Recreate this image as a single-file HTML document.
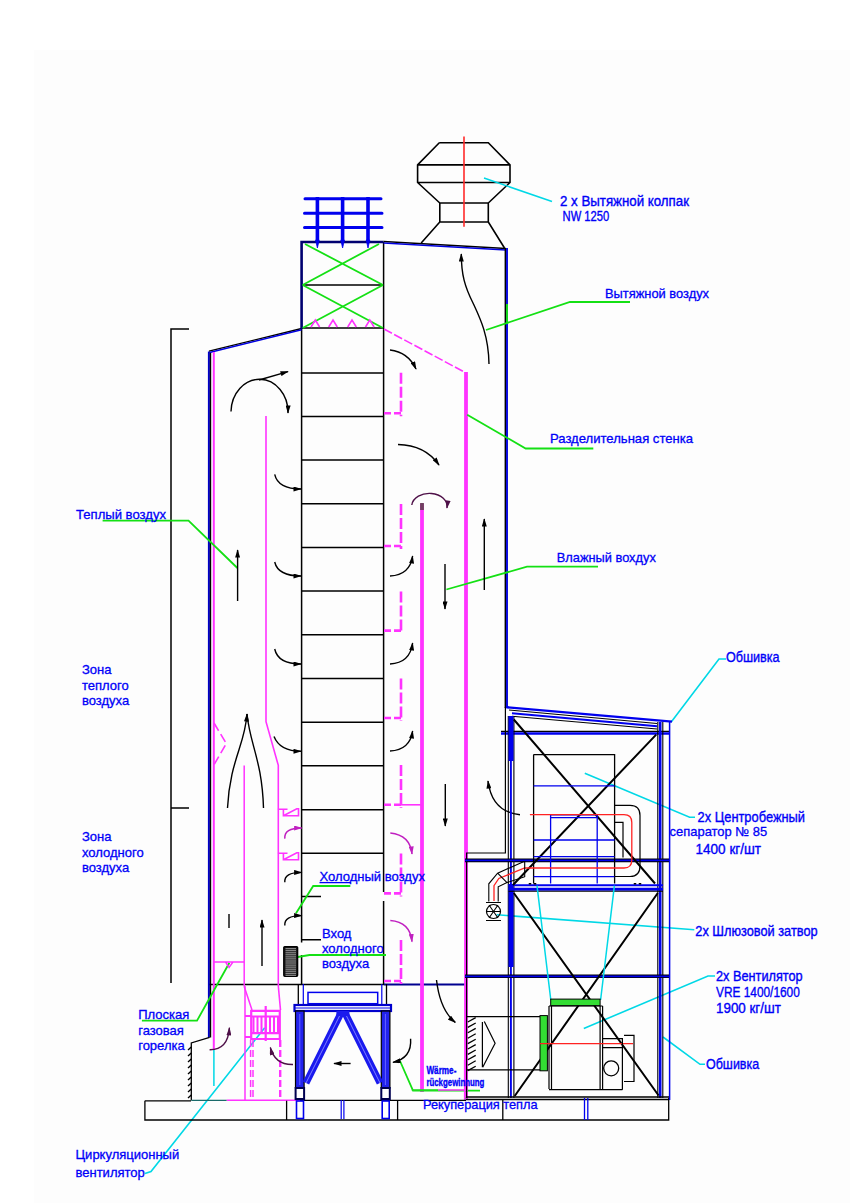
<!DOCTYPE html>
<html><head><meta charset="utf-8">
<style>
html,body{margin:0;padding:0;background:#fff;}
svg{display:block;}
text{font-family:"Liberation Sans",sans-serif;fill:#0000f8;stroke:#0000f8;stroke-width:0.3px;font-size:13px;}
.iso{stroke-width:0.35px;font-size:13.8px;}
</style></head><body>
<svg width="850" height="1203" viewBox="0 0 850 1203" fill="none" stroke-linecap="butt">
<rect x="34" y="50" width="816" height="1153" fill="#fdfdfd"/>

<!-- ===== BLACK THIN STRUCTURE ===== -->
<g id="blk" stroke="#000" stroke-width="1.5">
  <!-- bracket -->
  <path d="M189 329H171V983 M171 808H189"/>
  <!-- column -->
  <path d="M383.6 242V892 M383.6 901V984 M301.6 328V942.6 M301.6 955V984"/>
  <path d="M301.6 285H383.6 M301.6 328H383.6 M301.6 372.9H383.6 M301.6 416.4H383.6 M301.6 460.1H383.6 M301.6 503.7H383.6 M301.6 547.4H383.6 M301.6 591.1H383.6 M301.6 634.8H383.6 M301.6 678.6H383.6 M301.6 722.3H383.6 M301.6 765.8H383.6 M301.6 809.7H383.6 M301.6 853.3H383.6"/>
  <path d="M301.6 896.6H321 M301.6 939.8H321"/>
  <!-- hood -->
  <path stroke-width="1.6" d="M439.3 142.7H488.3L510 164.9V182.5L488.3 203V222L504.5 248 M439.3 142.7L417.6 164.9V182.5L439.8 203V222L421.2 243 M417.6 164.9H510 M417.6 182.5H510 M439.8 203H488.3 M439.8 222H488.3"/>
  <!-- tower bottom line -->
  <path d="M209 984.5H384" stroke-width="1.6"/>
  <path d="M384 984.5H466" stroke="#000090" stroke-width="2.2"/>
</g>

<!-- ===== THICK BLUE WALLS ===== -->
<g stroke-linejoin="miter">
  <path d="M208.9 1037.4V351.6" stroke="#0000c8" stroke-width="2"/>
  <path d="M210.5 1037.4V352" stroke="#000" stroke-width="1.4"/>
  <path d="M209 351.1L301.6 328.5" stroke="#000" stroke-width="1.4"/>
  <path d="M209.5 352.4L301.6 329.8" stroke="#0000e0" stroke-width="1.5"/>
  <path d="M301.6 329V242H383.6" stroke="#000070" stroke-width="2.6"/>
  <path d="M383.6 241.5L506 248.5" stroke="#000" stroke-width="1.5"/>
  <path d="M383.6 242.9L506 249.9" stroke="#0000e0" stroke-width="1.5"/>
  <path d="M505.3 248V708" stroke="#000" stroke-width="1.4"/>
  <path d="M507 248V708" stroke="#0000e0" stroke-width="1.9"/>
</g>
<!-- ===== BLUE GRID ON TOP ===== -->
<g stroke="#0000ee">
  <path d="M305 198.8H381 M304.5 213.3H382 M304.5 227.6H382" stroke-width="3" stroke-linecap="round"/>
  <path d="M317.4 197V241 M342.6 197V241 M368 197V241" stroke-width="3.6"/>
  <path d="M315.6 240L317.4 248L319.2 240Z M340.8 240L342.6 248L344.4 240Z M366.2 240L368 248L369.8 240Z" fill="#0000ee" stroke-width="0.8"/>
</g>
<!-- ===== GREEN X ===== -->
<g stroke="#14e014" stroke-width="1.8">
  <path d="M305 244L383 285 M379 244L302.6 285 M302.6 285L383 328 M383 285L302.6 328"/>
</g>

<!-- ===== PINK ===== -->
<g stroke="#ff33ff" stroke-width="1.6">
  <path d="M213.8 352V1050" stroke-width="2"/>
  <path d="M311 327L315.3 320L319.6 327 M328.7 327L333 320L337.3 327 M347.7 327L352 320L356.3 327 M365.5 327L369.8 320L374.1 327"/>
  <path d="M384 329L465 372.4" stroke-dasharray="9 2.5"/>
  <path d="M466 372V1100" stroke-width="3.8"/>
  <path d="M422 504V1092" stroke-width="3.8"/>
  <path d="M422 503V510" stroke="#704060" stroke-width="3.8"/>
  <path d="M266 416V721.6L278.3 765.4V986L280.5 1010"/>
</g>


<defs>
<marker id="ah" viewBox="0 0 10 6" refX="9" refY="3" markerWidth="9" markerHeight="5" markerUnits="userSpaceOnUse" orient="auto"><path d="M0 0L10 3L0 6z" fill="#000"/></marker>
<marker id="ahp" viewBox="0 0 10 6" refX="9" refY="3" markerWidth="9" markerHeight="5" markerUnits="userSpaceOnUse" orient="auto"><path d="M0 0L10 3L0 6z" fill="#4e1048"/></marker>
</defs>
<!-- ===== LEADERS ===== -->
<g stroke="#14e014" stroke-width="1.8">
  <path d="M630 302H570L486 330"/>
  <path d="M507 304V324" stroke-width="1.9"/>
  <path d="M593.3 448.5H525.7L467.2 414.7"/>
  <path d="M598 566.7H527L446.4 589.5"/>
  <path d="M102.6 520.6H188.5L237.4 568"/>
  <path d="M350.3 886H313.2L296 913.2"/>
  <path d="M386 955H309.5L292 958"/>
  <path d="M141.9 1020.7H197L229.4 962.8"/>
  <path d="M400 1061L413 1090.6H480"/>
</g>
<g stroke="#00d8e6" stroke-width="1.6">
  <path d="M484 178L552 201.6"/>
  <path d="M726 659H719L671.6 721.4"/>
  <path d="M584.8 773.3L689.6 817.3H695"/>
  <path d="M496.7 914.8L694.3 929.8"/>
  <path d="M583.8 1028.5L708 976H715"/>
  <path d="M663 1037L700 1064.3H705"/>
  <path d="M145 1173.5L151 1171.5L264.7 1027.8"/>
</g>
<!-- red hood center -->
<path d="M464 136.4V226.7" stroke="#ff2a2a" stroke-width="1.6"/>

<!-- ===== PINK DETAILS ===== -->
<g stroke="#ff33ff" stroke-width="2.2">
  <path stroke-width="2.6" d="M401 372.8V416.3 M401 504V549 M401 591.4V633.6 M401 678.5V721 M401 765V807.8 M401 853.4V896.4 M401 940V984" stroke-dasharray="11 3"/>
  <path stroke-width="2.6" d="M401 413.3H384 M401 546H384 M401 630.6H384 M401 718H384 M401 804.8H384 M401 893.4H384 M401 981H384" stroke-dasharray="7 3"/>
  <path d="M401 804.8H422" stroke-width="1.6"/>
  <path d="M214 723L226.3 743.5L214 764.7" stroke-width="1.6" stroke-dasharray="9 4"/>
  <path d="M244.2 765.4V986.6 M213.9 961.9H244.2 M225.5 961.9H233L229.1 967.5Z" stroke-width="1.5"/>
  <path d="M244.2 986.6L252 1009.9" stroke-width="1.5"/>
  <path d="M245 986V1100" stroke-width="1.5"/>
  <path d="M277.9 809.3H287.5 M283.4 809.3V815.7H298.5V808.7H296.8L283.4 815.7 M277.9 853.3H287.5 M283.4 853.3V859.7H298.5V852.7H296.8L283.4 859.7" stroke-width="1.6"/>
  <!-- fan grid -->
  <path d="M251.2 1010.8H280.5 M251.2 1016.5H280.5 M251.2 1033.2H280.5 M251.2 1039H280.5 M251.2 1009.8V1040 M279.8 1009.8V1040 M265.7 1006V1041 M245 1016H251 M245 1037H251" stroke-width="2.2"/>
  <path d="M253.5 1016V1034 M257.5 1016V1034 M261.5 1016V1034 M265.7 1016V1034 M270.0 1016V1034 M274.0 1016V1034 M278.0 1016V1034" stroke-width="2"/>
  <path d="M250.6 1040V1100 M253 1040V1100" stroke-width="1.5" stroke-dasharray="7 3"/>
  <path d="M280.2 1040V1100" stroke-width="2.4" stroke-dasharray="7 3"/>
  <path d="M226.6 1100.3H300" stroke-width="1.6"/>
  <path d="M465 1097V1100 M411.8 1090H438" stroke="#22dd22" stroke-width="1.4"/>
  <path d="M438 1090H468 M464.7 1060V1100" stroke-width="1.6"/>
</g>
<path d="M213.9 1050V1086" stroke="#00d8e6" stroke-width="1.5"/>
<!-- burner wall & foundation -->
<g stroke="#000" stroke-width="1.3">
  <path d="M209.6 1037.4L191.3 1043V1100.3"/>
  <path d="M191.3 1100.3H226.6" stroke="#1a6a6a"/>
  <path d="M188 1050L191.3 1047 M188 1056L191.3 1053 M188 1062L191.3 1059 M188 1068L191.3 1065 M188 1074L191.3 1071 M188 1080L191.3 1077 M188 1086L191.3 1083 M188 1092L191.3 1089 M188 1098L191.3 1095" stroke-width="1.4"/>
  <path d="M144.9 1100.8H191 M144.9 1100.8V1120 H668.7V1098 M286.6 1100.8V1120 M397.6 1100V1120 M502.8 1100V1120"/>
  <path d="M300 1100.4H466"/>
  <path d="M298.3 984V1004 M386.5 984V1004"/>
</g>
<!-- louver -->
<g>
  <rect x="283.8" y="946.6" width="13.8" height="29.6" rx="1" fill="#1a1a1a" stroke="#000" stroke-width="1.4"/>
  <path d="M285.5 948.7H296 M285.5 950.7H296 M285.5 952.8H296 M285.5 954.8H296 M285.5 956.9H296 M285.5 958.9H296 M285.5 961.0H296 M285.5 963.0H296 M285.5 965.1H296 M285.5 967.1H296 M285.5 969.2H296 M285.5 971.2H296 M285.5 973.3H296 M285.5 975.3H296" stroke="#b0b0b0" stroke-width="0.9"/>
</g>
<!-- support structure -->
<g>
  <path d="M303.3 984V1004 M381.8 984V1004" stroke="#0000ee" stroke-width="1.2"/>
  <rect x="308" y="992.4" width="69.7" height="11.3" stroke="#0000ee" stroke-width="1.5"/>
  <rect x="294.5" y="1005" width="96.5" height="6" fill="#fff" stroke="#0000cc" stroke-width="2.2"/>
  <path d="M294.5 1008H391" stroke="#0000ee" stroke-width="1"/>
  <rect x="295.5" y="1011" width="8.6" height="77" fill="#2222ee" stroke="#000" stroke-width="1.2"/>
  <rect x="381.3" y="1011" width="8.6" height="77" fill="#2222ee" stroke="#000" stroke-width="1.2"/>
  <path d="M299.8 1014V1085 M385.4 1014V1085" stroke="#6666ff" stroke-width="1"/>
  <rect x="295.6" y="1088" width="8.5" height="11" fill="#fff" stroke="#000050" stroke-width="2"/>
  <rect x="381.3" y="1088" width="8.5" height="11" fill="#fff" stroke="#000050" stroke-width="2"/>
  <rect x="296.5" y="1101" width="7" height="17.5" fill="#fff" stroke="#0000ee" stroke-width="1.6"/>
  <rect x="382.2" y="1101" width="7" height="17.5" fill="#fff" stroke="#0000ee" stroke-width="1.6"/>
  <path d="M341.2 1100V1119 M343.9 1100V1119" stroke="#0000ee" stroke-width="1.2"/>
  <path d="M341 1013L306 1083 M345 1013L380 1083" stroke="#1a1aee" stroke-width="7"/>
  <path d="M341 1013L306 1083 M345 1013L380 1083" stroke="#8080ff" stroke-width="1"/>
  <rect x="336.4" y="1011" width="13" height="5" fill="#1a1aee"/>
</g>

<!-- ===== ARROWS ===== -->
<g stroke="#000" stroke-width="1.4">
  <path d="M489 364C488.5 335 480 318 473 303C465 287 461.3 275 461.3 254" marker-end="url(#ah)"/>
  <path d="M231 411.6A28.5 33 0 0 1 288 413" marker-end="url(#ah)"/>
  <path d="M259 380L288 371.6" marker-end="url(#ah)"/>
  <path d="M390 350Q408 352 416 369" marker-end="url(#ah)"/>
  <path d="M398 444.5Q425 445 439 465" marker-end="url(#ah)"/>
  <path d="M484.3 590V519" marker-end="url(#ah)"/>
  <path d="M445 564V609" marker-end="url(#ah)"/>
  <path d="M445.3 784V826" marker-end="url(#ah)"/>
  <path d="M237.6 601V550" marker-end="url(#ah)"/>
  <path d="M274.7 474.4Q278 489 301 489" marker-end="url(#ah)"/>
  <path d="M274.7 562Q278 576 301 576" marker-end="url(#ah)"/>
  <path d="M274.7 649Q278 664 301 664" marker-end="url(#ah)"/>
  <path d="M274 736.5Q280 751.3 301 751.3" marker-end="url(#ah)"/>
  <path d="M390 576Q410 575 412.6 556" marker-end="url(#ah)"/>
  <path d="M390 664Q410 663 412.6 643" marker-end="url(#ah)"/>
  <path d="M390 751Q410 750 412.6 731" marker-end="url(#ah)"/>
  <path d="M284.8 882.3Q284 872.4 301.6 872.4" marker-end="url(#ah)"/>
  <path d="M284.8 925.5Q284 915.6 301.6 915.6" marker-end="url(#ah)"/>
  <path d="M262 966V920" marker-end="url(#ah)"/>
  <path d="M229 914V928"/>
  <path d="M520 814.7Q492 812 488 781" marker-end="url(#ah)"/>
  <path d="M350.6 1063.5H334" marker-end="url(#ah)"/>
  <path d="M436.5 980Q440 1010 455.3 1022.4" marker-end="url(#ah)"/>
  <path d="M410.6 1038.8Q412 1058 393 1062.4" marker-end="url(#ah)"/>
  <path d="M227.5 808C230 760 245 745 247 714" marker-end="url(#ah)"/>
  <path d="M263.5 808C262 760 250 745 247 714"/>
</g>
<g stroke="#4e1048" stroke-width="1.4">
  <path d="M411.8 505A17.5 13 0 0 1 447 508" marker-end="url(#ahp)"/>
  <path d="M209.6 1049.8Q228 1050 229.4 1027.8" marker-end="url(#ahp)"/>
  <path d="M293 1064.5Q275 1065 270.3 1047.5" marker-end="url(#ahp)"/>
</g>


<!-- ===== RIGHT STRUCTURE ===== -->
<g id="right">
  <!-- sheathing roof -->
  <path d="M506.4 707.2L672 721.6" stroke="#0000ee" stroke-width="2.4"/>
  <path d="M509 710L657 723.5" stroke="#000" stroke-width="1.2"/>
  <path d="M512 713.2L657 726.3" stroke="#0000ee" stroke-width="2"/>
  <path d="M512 716.2L657 729" stroke="#000" stroke-width="1.1"/>
  <!-- beam 733 -->
  <path d="M501 731.3H669" stroke="#000" stroke-width="1.3"/>
  <path d="M501 733.5H669" stroke="#0000ee" stroke-width="2.4"/>
  <!-- left column -->
  <path d="M505.4 707V853H466.6V1098" stroke="#000" stroke-width="1.2"/>
  <path d="M508.3 716V1098 M513.9 716V1098" stroke="#000" stroke-width="1.1"/>
  <path d="M510.9 716V1098" stroke="#0000ee" stroke-width="1.9"/>
  <path d="M511 716V761 M511 884V967" stroke="#0000ee" stroke-width="5"/>
  <!-- right column -->
  <path d="M657.8 722V1098 M662.8 722V1098" stroke="#000" stroke-width="1.1"/>
  <path d="M660.2 722V1098" stroke="#0000ee" stroke-width="2.6"/>
  <path d="M669.6 722V1100" stroke="#0000ee" stroke-width="1.5"/>
  <!-- beams -->
  <path d="M465 860.3H669" stroke="#000" stroke-width="3.8"/>
  <path d="M465 860.3H669" stroke="#0000ee" stroke-width="1.8"/>
  <path d="M508.5 885.3H663" stroke="#0000ee" stroke-width="2"/>
  <path d="M508.5 889.3H663" stroke="#0000ee" stroke-width="3"/>
  <path d="M508.5 891.3H663" stroke="#000" stroke-width="1.1"/>
  <path d="M530 884.5V883 M535 884.5V883 M635 884.5V883 M640 884.5V883" stroke="#000" stroke-width="2.5"/>
  <path d="M465 976.3H669" stroke="#000" stroke-width="3.6"/>
  <path d="M465 976.3H669" stroke="#0000ee" stroke-width="1.8"/>
  <!-- big X upper -->
  <path d="M513.8 719.5L655 883.5 M656.2 734.6L513 885" stroke="#000" stroke-width="2"/>
  <!-- separator -->
  <path d="M533.6 754.6H614.6V883.5 M533.6 754.6V883.5" stroke="#000" stroke-width="1.3"/>
  <path d="M533.6 785.9H614.6 M533.6 840H614.6 M533.6 856.6H614.6 M533.6 876.6H614.6 M550.6 814.8H597.2 M550.6 817.6H597.2 M550.6 814.8V883.5 M597.2 814.8V883.5" stroke="#0000ee" stroke-width="1.3"/>
  <path d="M529.9 814.6H624Q631.8 814.6 631.8 822.4V860Q631.8 868 624 868H524.7L498.8 878.5L494 885.6V901" stroke="#ff2222" stroke-width="1.3"/>
  <path d="M614.6 805.4H630Q640 805.4 640 815.4V866Q640 876.5 630 876.5H614.6 M614.6 822.4H623V857.6" stroke="#000" stroke-width="1.2"/>
  <!-- pipe -->
  <path d="M524 861.5L497.6 873.2L488.8 883.8V901.5 M524.7 876.8L507 882.6L498.2 886.8V901.5 M524.7 861V877 M497.6 873.2L507 882.6" stroke="#000" stroke-width="1.1"/>
  <!-- valve -->
  <circle cx="493.5" cy="911.5" r="7" stroke="#000" stroke-width="1.2"/>
  <path d="M486 902.5H501 M486 920.5H501 M486.5 911.5H500.5 M489 905L498 918 M498 905L489 918" stroke="#000" stroke-width="1.1"/>
  <!-- lower X -->
  <path d="M513.8 893L658.6 1095.5 M657.8 893L514.7 1096" stroke="#000" stroke-width="2"/>
  <!-- cyan hopper lines -->
  <path d="M537 885.6L550.8 1000 M614.4 885.6L600.6 1000" stroke="#00d8e6" stroke-width="1.5"/>
  <!-- fan -->
  <rect x="550.7" y="999.1" width="49.4" height="6.6" fill="#33dd33" stroke="#000" stroke-width="1"/>
  <path d="M549 1006V1089 M551.5 1006V1089 M600.1 1006V1089 M602.6 1006V1089 M549 1006H602.6 M549 1089.7H622.4" stroke="#000" stroke-width="1.2"/>
  <rect x="540" y="1015.6" width="7.4" height="55.2" fill="#33dd33" stroke="#000" stroke-width="1"/>
  <path d="M540 1043.6H633" stroke="#ff2222" stroke-width="1.3"/>
  <path d="M602.6 1038.7H622.4V1089.7 M602.6 1047.7H622.4 M624 1035.4H634V1081.5H624 M622.4 1042V1080" stroke="#000" stroke-width="1.2"/>
  <circle cx="611.2" cy="1068.3" r="7.5" stroke="#000" stroke-width="1.3"/>
  <!-- intake duct -->
  <path d="M466.6 1016.6H540 M466.6 1069.8H540 M482.4 1021.9V1067.3 M484.3 1021.6L495.1 1043.2L482.7 1067.3" stroke="#000" stroke-width="1.2"/>
  <path d="M467.8 1022.0L475.7 1017.6 M467.8 1027.4L475.7 1023.0 M467.8 1032.8L475.7 1028.4 M467.8 1038.2L475.7 1033.8 M467.8 1043.6L475.7 1039.2 M467.8 1049.0L475.7 1044.6 M467.8 1054.4L475.7 1050.0 M467.8 1059.8L475.7 1055.4 M467.8 1065.2L475.7 1060.8 M467.8 1070.6L475.7 1066.2" stroke="#000" stroke-width="1.3"/>
  <!-- floor -->
  <path d="M466 1097H669 M466 1099.5H669" stroke="#000" stroke-width="1.4"/>
  <path d="M584.5 1098V1120 M587.8 1098V1120" stroke="#0000ee" stroke-width="1.3"/>
</g>

<defs><marker id="ahm" viewBox="0 0 10 6" refX="9" refY="3" markerWidth="9" markerHeight="5" markerUnits="userSpaceOnUse" orient="auto"><path d="M0 0L10 3L0 6z" fill="#c020c0"/></marker></defs>
<g stroke="#c020c0" stroke-width="1.5"><path d="M284.8 838.6Q284 828 301.6 828" marker-end="url(#ahm)"/><path d="M390.3 833Q410 835 412 854" marker-end="url(#ahm)"/><path d="M390.3 920.6Q410 922 412 941.6" marker-end="url(#ahm)"/></g>
<!-- ===== TEXT ===== -->
<text class="iso" x="560" y="206" textLength="129" lengthAdjust="spacingAndGlyphs">2 x Вытяжной колпак</text>
<text class="iso" x="562.6" y="221.4" textLength="46.7" lengthAdjust="spacingAndGlyphs">NW 1250</text>
<text x="605" y="297.5" textLength="104" lengthAdjust="spacingAndGlyphs">Вытяжной воздух</text>
<text x="550" y="442.8" textLength="143" lengthAdjust="spacingAndGlyphs">Разделительная стенка</text>
<text x="76" y="519" textLength="90" lengthAdjust="spacingAndGlyphs">Теплый воздух</text>
<text x="556.8" y="561.7" textLength="99" lengthAdjust="spacingAndGlyphs">Влажный вохдух</text>
<text class="iso" x="726" y="662" textLength="53.6" lengthAdjust="spacingAndGlyphs">Обшивка</text>
<text x="82" y="673.8">Зона</text>
<text x="82" y="689.7">теплого</text>
<text x="82" y="705.3">воздуха</text>
<text class="iso" x="697.6" y="822" textLength="107.4" lengthAdjust="spacingAndGlyphs">2x Центробежный</text>
<text x="669.6" y="836.3" textLength="97.6" lengthAdjust="spacingAndGlyphs">сепаратор № 85</text>
<text class="iso" x="695.6" y="853.6" textLength="65.4" lengthAdjust="spacingAndGlyphs">1400 кг/шт</text>
<text x="82" y="841">Зона</text>
<text x="82" y="856.5">холодного</text>
<text x="82" y="872">воздуха</text>
<path d="M319.5 882.6H351" stroke="#0000f8" stroke-width="1.3"/>
<text x="319.4" y="881" textLength="105.6" lengthAdjust="spacingAndGlyphs">Холодный воздух</text>
<text class="iso" x="695.3" y="936.2" textLength="122.3" lengthAdjust="spacingAndGlyphs">2x Шлюзовой затвор</text>
<text x="322" y="938.4">Вход</text>
<text x="322" y="953.2">холодного</text>
<text x="322" y="968">воздуха</text>
<text class="iso" x="716" y="981" textLength="86.7" lengthAdjust="spacingAndGlyphs">2x Вентилятор</text>
<text class="iso" x="716" y="996.6" textLength="83.8" lengthAdjust="spacingAndGlyphs">VRE 1400/1600</text>
<text class="iso" x="716" y="1013" textLength="64.8" lengthAdjust="spacingAndGlyphs">1900 кг/шт</text>
<text x="138.2" y="1019.3">Плоская</text>
<text x="138.2" y="1034.8">газовая</text>
<text x="138.2" y="1049.8">горелка</text>
<text class="iso" x="706" y="1069.2" textLength="53.2" lengthAdjust="spacingAndGlyphs">Обшивка</text>
<text class="iso" x="426.4" y="1074" style="font-size:11px;font-weight:bold" textLength="30" lengthAdjust="spacingAndGlyphs">Wärme-</text>
<text class="iso" x="426.4" y="1086" style="font-size:11px;font-weight:bold" textLength="58" lengthAdjust="spacingAndGlyphs">rückgewinnung</text>
<text x="423" y="1108.5" textLength="114.6" lengthAdjust="spacingAndGlyphs">Рекуперация тепла</text>
<text x="75.5" y="1159">Циркуляционный</text>
<text x="75.5" y="1177.4">вентилятор</text>

</svg>
</body></html>
